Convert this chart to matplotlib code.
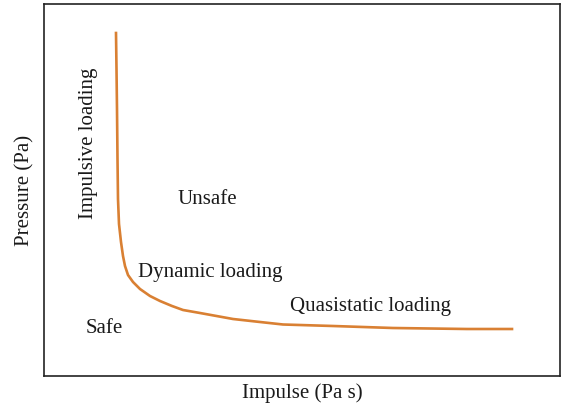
import matplotlib.pyplot as plt

# curve (arbitrary units, no ticks on the axes)
impulse = [72, 72.5, 73, 73.5, 74, 75, 77, 79, 81, 84, 89, 96, 106, 116, 128, 139, 156,
           189, 216, 239, 289, 349, 423, 468]
pressure = [343, 307, 267, 217, 177, 152, 134, 120, 110, 101, 94, 87, 80, 75, 70, 66, 63,
            57, 54, 51.5, 50, 48, 47, 47]

labels = ["Impulsive loading", "Unsafe", "Dynamic loading", "Quasistatic loading", "Safe"]

plt.rcParams["font.family"] = ["Liberation Serif", "DejaVu Serif"]

fig = plt.figure(figsize=(5.71, 4.06), dpi=100)
ax = fig.add_axes([44 / 571, 29 / 406, 516 / 571, 372 / 406])

ax.plot(impulse, pressure, color="#D98033", linewidth=1.9, solid_joinstyle="round")
ax.set_xlim(0, 516)
ax.set_ylim(0, 372)
ax.set_xticks([])
ax.set_yticks([])
for s in ax.spines.values():
    s.set_linewidth(1.2)
    s.set_color("#222222")

fs = 15
ax.text(44, 234, labels[0], rotation=90, ha="center", va="center", fontsize=fs, color="#1a1a1a")
ax.text(163, 177, labels[1], ha="center", va="center", fontsize=fs, color="#1a1a1a")
ax.text(94, 105, labels[2], ha="left", va="center", fontsize=fs, color="#1a1a1a")
ax.text(246, 70, labels[3], ha="left", va="center", fontsize=fs, color="#1a1a1a")
ax.text(42, 48, labels[4], ha="left", va="center", fontsize=fs, color="#1a1a1a")

fig.text(25 / 571, 1 - 190 / 406, "Pressure (Pa)", rotation=90, ha="center", va="center", fontsize=fs, color="#1a1a1a")
fig.text(302 / 571, 1 - 393 / 406, "Impulse (Pa s)", ha="center", va="center", fontsize=fs, color="#1a1a1a")

plt.savefig("out.png", dpi=100)
